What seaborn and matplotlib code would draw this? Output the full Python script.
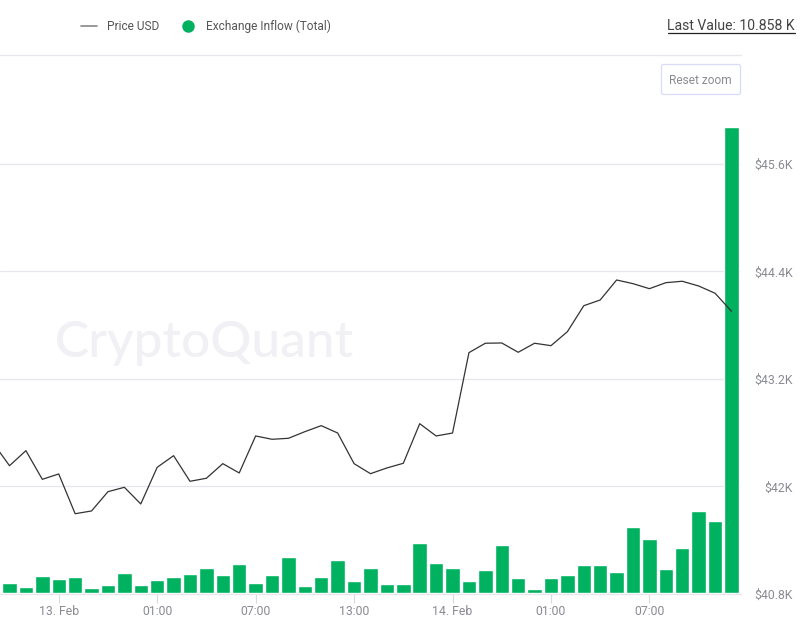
import matplotlib
matplotlib.use('Agg')
import matplotlib.pyplot as plt
import seaborn as sns
from matplotlib.lines import Line2D
from matplotlib.patches import FancyBboxPatch
from matplotlib.transforms import Affine2D

# hourly slots, slot -1 is cut off by the left edge
price_slots = list(range(-1, 45))
price_usd = [
    42486, 42232, 42400, 42080, 42140, 41696, 41727, 41942, 41991, 41805,
    42214, 42344, 42058, 42092, 42255, 42151, 42564, 42527, 42538, 42612,
    42679, 42597, 42255, 42143, 42207, 42259, 42701, 42564, 42597, 43494,
    43599, 43602, 43498, 43599, 43572, 43728, 44018, 44082, 44305, 44264,
    44208, 44275, 44291, 44238, 44157, 43956,
]

inflow_slots = list(range(45))
exchange_inflow = [
    233, 140, 396, 326, 373, 117, 186, 466, 186, 303,
    373, 443, 583, 419, 676, 233, 419, 839, 163, 373,
    769, 280, 583, 210, 210, 1165, 699, 583, 280, 536,
    1118, 350, 93, 350, 419, 652, 652, 489, 1538, 1258,
    559, 1049, 1911, 1678, 10858,
]

xtick_slots = [3, 9, 15, 21, 27, 33, 39]
xtick_labels = ['13. Feb', '01:00', '07:00', '13:00', '14. Feb', '01:00', '07:00']
price_ticks = [40800, 42000, 43200, 44400, 45600]
price_labels = ['$40.8K', '$42K', '$43.2K', '$44.4K', '$45.6K']

GREEN = '#00b25f'
GRID = '#e6e6ec'
GREY_TEXT = '#8a8a94'
W, H = 806, 622
PRICE_MIN, PRICE_MAX = 40800, 46813
INFLOW_MIN, INFLOW_MAX = -15, 12537

sns.set_theme(style='white')
plt.rcParams['font.family'] = ['Roboto', 'DejaVu Sans']

fig = plt.figure(figsize=(W / 100, H / 100), dpi=100)
# pixel coordinates measured from the top left of the picture
px = Affine2D().scale(1 / W, -1 / H).translate(0, 1) + fig.transFigure

ax = fig.add_axes([0, (H - 594) / H, 741 / W, (594 - 55.3) / H])
sns.barplot(x=inflow_slots, y=exchange_inflow, native_scale=True, width=0.88,
            color=GREEN, saturation=1, ax=ax, zorder=2)
ax.set_xlim(-0.579, 44.58)
ax.set_ylim(INFLOW_MIN, INFLOW_MAX)
ax.set_xlabel('')
ax.set_ylabel('')
ax.set_xticks(xtick_slots)
ax.set_xticklabels(xtick_labels)
ax.tick_params(axis='x', length=6.5, width=0.8, color='#d9d9e3', colors=GREY_TEXT,
               labelsize=8.8, pad=1.5, bottom=True)

# grid belongs under the bars, so it sits on the inflow axis at the price levels
grid_levels = [INFLOW_MIN + (p - PRICE_MIN) / (PRICE_MAX - PRICE_MIN) * (INFLOW_MAX - INFLOW_MIN)
               for p in price_ticks]
ax.set_yticks(grid_levels)
ax.set_yticklabels([])
ax.tick_params(axis='y', length=0)
ax.grid(axis='y', color=GRID, lw=0.9, zorder=0.5)
ax.set_axisbelow(True)
for side in ['left', 'right']:
    ax.spines[side].set_visible(False)
for side in ['top', 'bottom']:
    ax.spines[side].set_color(GRID)
    ax.spines[side].set_linewidth(0.9)

ax.text(55, 356.5, 'CryptoQuant', transform=px, fontsize=37, family='Lato', weight='medium',
        color='#f0f0f5', ha='left', va='baseline', zorder=0.1)

ax2 = ax.twinx()
ax2.patch.set_visible(False)
sns.lineplot(x=price_slots, y=price_usd, color='#333333', lw=0.9, ax=ax2, errorbar=None)
ax2.set_ylim(PRICE_MIN, PRICE_MAX)
ax2.set_xlim(-0.579, 44.58)
ax2.set_ylabel('')
ax2.set_yticks(price_ticks)
ax2.set_yticklabels(price_labels, ha='right')
ax2.tick_params(axis='y', length=0, pad=37.5, colors=GREY_TEXT, labelsize=8.8)
for spine in ax2.spines.values():
    spine.set_visible(False)

# legend row
handles = [
    Line2D([], [], color='#888888', lw=1.2),
    Line2D([], [], color='none', marker='o', markersize=9, markerfacecolor=GREEN,
           markeredgecolor='none'),
]
fig.legend(handles, ['Price USD', 'Exchange Inflow (Total)'], ncol=2, frameon=False,
           loc='center left', bbox_to_anchor=(81 / W, (H - 26.2) / H), borderaxespad=0,
           borderpad=0, fontsize=8.6, labelcolor='#555555', handlelength=1.33,
           handletextpad=0.85, columnspacing=1.7)

fig.text(795, 26, 'Last Value: 10.858 K', transform=px, fontsize=10.05, color='#444444',
         ha='right', va='center')
fig.add_artist(Line2D([668, 795], [32.5, 32.5], transform=px, color='#222222', lw=0.9))

fig.add_artist(FancyBboxPatch((661.5, 64.5), 79, 30, boxstyle='round,pad=0,rounding_size=2',
                              transform=px, facecolor='white', edgecolor='#d8dcfb', lw=0.9))
fig.text(700.5, 80, 'Reset zoom', transform=px, fontsize=8.6, color=GREY_TEXT,
         ha='center', va='center')

fig.savefig('out.png', dpi=100)
